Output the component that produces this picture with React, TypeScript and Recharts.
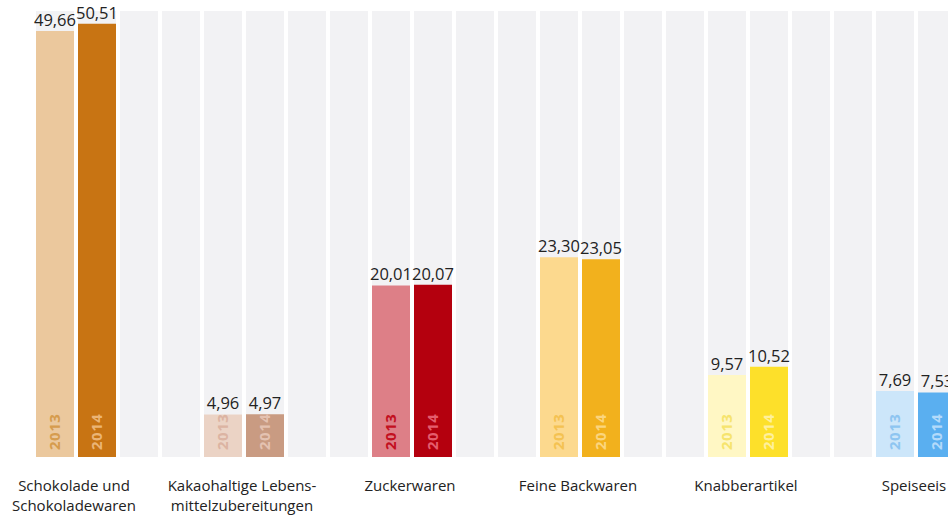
import { Bar, BarChart, Cell, LabelList, XAxis, YAxis } from "recharts";

const categories = [
  "Schokolade und\nSchokoladewaren",
  "Kakaohaltige Lebens-\nmittelzubereitungen",
  "Zuckerwaren",
  "Feine Backwaren",
  "Knabberartikel",
  "Speiseeis",
];
const values2013 = [49.66, 4.96, 20.01, 23.3, 9.57, 7.69];
const values2014 = [50.51, 4.97, 20.07, 23.05, 10.52, 7.53];
const years = ["2013", "2014"];
const axisMax = 52;

const fill2013 = ["#ebc89d", "#ebd3c5", "#dd7f87", "#fcd98e", "#fff7c4", "#cce6fa"];
const fill2014 = ["#c87413", "#c99b82", "#b4000e", "#f2b11d", "#fde02a", "#5aaff0"];
const text2013 = ["#d69c4e", "#dcb4a2", "#c3101f", "#f4c252", "#f6e46e", "#8ec5f1"];
const text2014 = ["#ebb476", "#e4c2b1", "#e45d6d", "#fbd57e", "#fff09c", "#b3dafa"];

// two empty slots per group are drawn as full-height grey columns
const data = categories.map((name, i) => ({
  name,
  y2013: values2013[i],
  y2014: values2014[i],
  pad1: axisMax,
  pad2: axisMax,
}));

const font = "'Open Sans', sans-serif";
const fmt = (v: number) => v.toFixed(2).replace(".", ",");

function CategoryTick({ x, y, payload }: any) {
  const lines = String(payload.value).split("\n");
  return (
    <text x={x - 44} y={y + 26} textAnchor="middle" fontFamily={font} fontSize={15} fill="#222">
      {lines.map((l, i) => (
        <tspan key={i} x={x - 44} dy={i === 0 ? 0 : 20}>
          {l}
        </tspan>
      ))}
    </text>
  );
}

function yearLabel(year: string, colors: string[]) {
  return (props: any) => {
    const { x, y, width, height, index } = props;
    const cx = Number(x) + Number(width) / 2 + 5;
    const cy = Number(y) + Number(height) - 7;
    return (
      <text
        key={`${year}-${index}`}
        x={cx}
        y={cy}
        transform={`rotate(-90 ${cx} ${cy})`}
        textAnchor="start"
        fontFamily={font}
        fontSize={15}
        fontWeight={700}
        letterSpacing={0.5}
        fill={colors[index]}
      >
        {year}
      </text>
    );
  };
}

export default function App() {
  const bg = { fill: "#f2f2f4" };
  const valueStyle = { fontFamily: font, fontSize: 16.5, fill: "#222" };
  return (
    <div style={{ position: "absolute", left: 0, top: 0, width: 948, height: 515, overflow: "hidden", background: "#fff" }}>
      <BarChart
        width={1050}
        height={515}
        data={data}
        margin={{ top: 11, right: 8, bottom: 0, left: 34 }}
        barCategoryGap={2}
        barGap={4}
      >
        <XAxis dataKey="name" axisLine={false} tickLine={false} height={58} tick={<CategoryTick />} interval={0} />
        <YAxis hide domain={[0, axisMax]} />
        <Bar dataKey="y2013" background={bg} isAnimationActive={false}>
          {data.map((_, i) => (
            <Cell key={i} fill={fill2013[i]} />
          ))}
          <LabelList dataKey="y2013" position="top" offset={5} formatter={(v: any) => fmt(Number(v))} style={valueStyle} />
          <LabelList dataKey="y2013" content={yearLabel(years[0], text2013)} />
        </Bar>
        <Bar dataKey="y2014" background={bg} isAnimationActive={false}>
          {data.map((_, i) => (
            <Cell key={i} fill={fill2014[i]} />
          ))}
          <LabelList dataKey="y2014" position="top" offset={5} formatter={(v: any) => fmt(Number(v))} style={valueStyle} />
          <LabelList dataKey="y2014" content={yearLabel(years[1], text2014)} />
        </Bar>
        <Bar dataKey="pad1" fill="#f2f2f4" isAnimationActive={false} />
        <Bar dataKey="pad2" fill="#f2f2f4" isAnimationActive={false} />
      </BarChart>
    </div>
  );
}
